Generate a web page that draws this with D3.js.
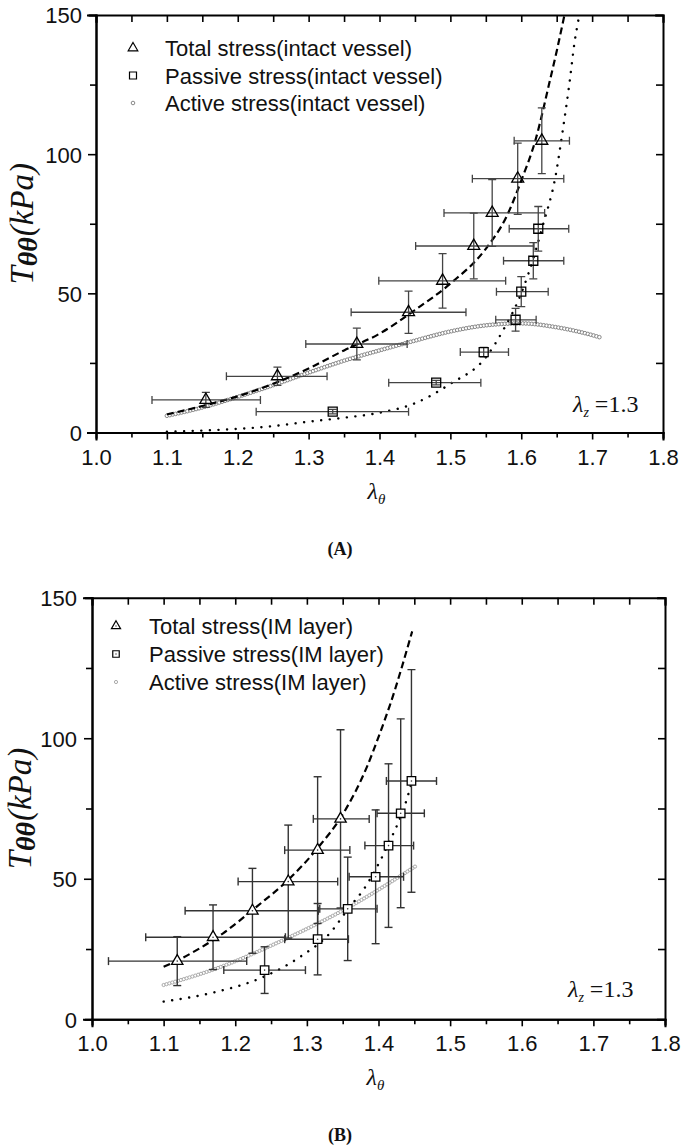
<!DOCTYPE html>
<html>
<head>
<meta charset="utf-8">
<script src="https://cdn.jsdelivr.net/npm/d3@7/dist/d3.min.js"></script>
<style>
  html, body { margin: 0; padding: 0; background: #fff; }
  svg { display: block; }
</style>
</head>
<body>
<svg id="chart" width="685" height="1146"></svg>
<script>
// ---------------- DATA ----------------
// axis ticks
const xMajorTicks = [1.0, 1.1, 1.2, 1.3, 1.4, 1.5, 1.6, 1.7, 1.8];
const xMinorTicks = [1.05, 1.15, 1.25, 1.35, 1.45, 1.55, 1.65, 1.75];
const yMajorTicks = [0, 50, 100, 150];
const yMinorTicks = [25, 75, 125];

// Panel A: intact vessel
const totalA_lam   = [1.155, 1.256, 1.368, 1.441, 1.489, 1.533, 1.559, 1.595, 1.629];
const totalA_T     = [11.7, 20.2, 31.8, 43.2, 54.5, 67.0, 78.9, 91.2, 104.8];
const totalA_xlo   = [1.079, 1.184, 1.296, 1.360, 1.399, 1.451, 1.491, 1.531, 1.590];
const totalA_xhi   = [1.232, 1.326, 1.439, 1.522, 1.578, 1.618, 1.633, 1.660, 1.668];
const totalA_yerr  = [2.7, 3.3, 5.7, 7.6, 9.8, 11.8, 12.0, 12.8, 11.8];

const passA_lam    = [1.334, 1.480, 1.547, 1.592, 1.600, 1.617, 1.624];
const passA_T      = [7.5, 17.9, 28.9, 40.5, 50.6, 61.7, 73.2];
const passA_xlo    = [1.226, 1.413, 1.514, 1.564, 1.565, 1.575, 1.583];
const passA_xhi    = [1.441, 1.543, 1.582, 1.621, 1.638, 1.660, 1.667];
const passA_yerr   = [0.8, 0.8, 1.7, 4.1, 5.4, 6.5, 8.0];

const totalFitA_lam = [1.10, 1.15, 1.20, 1.25, 1.30, 1.35, 1.40, 1.45, 1.50, 1.55, 1.58, 1.60, 1.62, 1.64, 1.65, 1.661];
const totalFitA_T   = [6.5, 9.5, 13.0, 17.5, 23.0, 29.5, 35.5, 44.0, 53.5, 66.0, 78.0, 90.5, 105, 126, 137, 150];
const passFitA_lam  = [1.10, 1.15, 1.20, 1.25, 1.30, 1.35, 1.40, 1.45, 1.50, 1.55, 1.575, 1.60, 1.62, 1.63, 1.649, 1.658, 1.668, 1.675, 1.682];
const passFitA_T    = [0.3, 0.7, 1.3, 2.3, 3.9, 5.3, 7.1, 10.5, 17.5, 27.0, 37.0, 50.0, 65.0, 74.0, 93.0, 107.6, 125.5, 139.8, 150];
const actA_lam      = [1.10, 1.15, 1.20, 1.25, 1.30, 1.35, 1.40, 1.45, 1.50, 1.55, 1.60, 1.65, 1.70, 1.711];
const actA_T        = [6.0, 9.0, 12.8, 17.0, 21.5, 25.8, 29.5, 33.0, 36.3, 38.5, 39.2, 37.8, 35.0, 34.2];

// Panel B: IM layer
const totalB_lam   = [1.119, 1.169, 1.224, 1.274, 1.315, 1.347];
const totalB_T     = [20.7, 29.2, 38.6, 49.0, 60.2, 71.3];
const totalB_xlo   = [1.023, 1.075, 1.130, 1.204, 1.269, 1.309];
const totalB_xhi   = [1.216, 1.270, 1.316, 1.343, 1.360, 1.387];
const totalB_yerr  = [8.7, 11.5, 15.1, 20.1, 26.1, 31.7];

const passB_lam    = [1.241, 1.315, 1.357, 1.396, 1.414, 1.431, 1.446];
const passB_T      = [17.5, 28.5, 39.3, 50.7, 61.8, 73.3, 84.8];
const passB_xlo    = [1.184, 1.269, 1.318, 1.359, 1.381, 1.398, 1.411];
const passB_xhi    = [1.298, 1.358, 1.398, 1.435, 1.449, 1.464, 1.481];
const passB_yerr   = [8.3, 12.7, 18.4, 23.8, 29.1, 33.6, 39.6];

const totalFitB_lam = [1.10, 1.119, 1.15, 1.183, 1.230, 1.274, 1.315, 1.351, 1.384, 1.402, 1.416, 1.447];
const totalFitB_T   = [18.7, 20.9, 25.2, 30.6, 40.1, 49.6, 60.9, 73.3, 89.9, 101.8, 111.8, 138.0];
const passFitB_lam  = [1.10, 1.174, 1.235, 1.291, 1.332, 1.360, 1.379, 1.398, 1.412, 1.442, 1.448];
const passFitB_T    = [6.3, 9.8, 14.6, 22.3, 30.6, 40.1, 46.1, 54.3, 61.4, 80.4, 86.0];
const actB_lam      = [1.10, 1.174, 1.267, 1.360, 1.452];
const actB_T        = [12.2, 18.1, 28.2, 40.1, 54.5];

const legendA = ["Total stress(intact vessel)", "Passive stress(intact vessel)", "Active stress(intact vessel)"];
const legendB = ["Total stress(IM layer)", "Passive stress(IM layer)", "Active stress(IM layer)"];

// ---------------- DRAWING ----------------
const svg = d3.select("#chart");
svg.append("rect").attr("width", 685).attr("height", 1146).attr("fill", "#fff");

const zip = (a, b) => a.map((v, i) => [v, b[i]]);

function drawPanel(cfg) {
  const x = d3.scaleLinear().domain([1.0, 1.8]).range(cfg.xr);
  const y = d3.scaleLinear().domain([0, 150]).range(cfg.yr);
  const g = svg.append("g");
  const clipId = "clip" + cfg.id;
  svg.append("clipPath").attr("id", clipId).append("rect")
    .attr("x", cfg.xr[0]).attr("y", cfg.yr[1])
    .attr("width", cfg.xr[1] - cfg.xr[0]).attr("height", cfg.yr[0] - cfg.yr[1]);

  const plot = g.append("g").attr("clip-path", `url(#${clipId})`);

  // active stress curve (small open circles)
  const line = d3.line().x(d => x(d[0])).y(d => y(d[1])).curve(d3.curveMonotoneX);
  const actPath = plot.append("path").datum(zip(cfg.act[0], cfg.act[1]))
    .attr("d", line).attr("fill", "none").attr("stroke", "none");
  const node = actPath.node();
  const L = node.getTotalLength();
  const pts = d3.range(0, L + 0.01, cfg.circStep).map(l => node.getPointAtLength(l));
  plot.append("g").selectAll("circle").data(pts).join("circle")
    .attr("cx", p => p.x).attr("cy", p => p.y).attr("r", cfg.circR)
    .attr("fill", "#fff").attr("stroke", cfg.circColor).attr("stroke-width", 0.9);

  // passive fit (dotted)
  plot.append("path").datum(zip(cfg.passFit[0], cfg.passFit[1]))
    .attr("d", line).attr("fill", "none").attr("stroke", "#000")
    .attr("stroke-width", 2.4).attr("stroke-linecap", "round")
    .attr("stroke-dasharray", "0.1,8.5");

  // total fit (dashed)
  plot.append("path").datum(zip(cfg.totalFit[0], cfg.totalFit[1]))
    .attr("d", line).attr("fill", "none").attr("stroke", "#000")
    .attr("stroke-width", 2.2).attr("stroke-dasharray", "7,4");

  // error bars
  function errorBars(s) {
    const data = s.lam.map((l, i) => ({ l, v: s.val[i], xlo: s.xlo[i], xhi: s.xhi[i], ye: s.yerr[i] }));
    const eg = plot.append("g").attr("stroke", cfg.errColor).attr("stroke-width", cfg.errWidth).attr("fill", "none");
    const cap = 4;
    data.forEach(d => {
      const cx = x(d.l), cy = y(d.v);
      eg.append("line").attr("x1", x(d.xlo)).attr("x2", x(d.xhi)).attr("y1", cy).attr("y2", cy);
      eg.append("line").attr("x1", x(d.xlo)).attr("x2", x(d.xlo)).attr("y1", cy - cap).attr("y2", cy + cap);
      eg.append("line").attr("x1", x(d.xhi)).attr("x2", x(d.xhi)).attr("y1", cy - cap).attr("y2", cy + cap);
      eg.append("line").attr("x1", cx).attr("x2", cx).attr("y1", y(d.v - d.ye)).attr("y2", y(d.v + d.ye));
      eg.append("line").attr("x1", cx - cap).attr("x2", cx + cap).attr("y1", y(d.v + d.ye)).attr("y2", y(d.v + d.ye));
      eg.append("line").attr("x1", cx - cap).attr("x2", cx + cap).attr("y1", y(d.v - d.ye)).attr("y2", y(d.v - d.ye));
    });
    return data;
  }
  const tData = errorBars(cfg.total);
  const pData = errorBars(cfg.pass);

  const tri = d3.symbol(d3.symbolTriangle, cfg.triSize);
  const sq = d3.symbol(d3.symbolSquare, cfg.sqSize);
  function markers(data, sym) {
    const mg = plot.append("g");
    mg.selectAll("path").data(data).join("path")
      .attr("transform", d => `translate(${x(d.l)},${y(d.v)})`)
      .attr("d", sym).attr("fill", cfg.markerFill).attr("stroke", "#000").attr("stroke-width", 1.3);
    if (cfg.centerDot) {
      mg.selectAll("circle").data(data).join("circle")
        .attr("cx", d => x(d.l)).attr("cy", d => y(d.v)).attr("r", 0.8).attr("fill", "#333");
    }
  }
  markers(tData, tri);
  markers(pData, sq);

  // axes
  const font = "'Liberation Sans', Arial, sans-serif";
  const bottom = g.append("g").attr("transform", `translate(0,${cfg.yr[0]})`)
    .call(d3.axisBottom(x).tickValues(xMajorTicks).tickSize(7).tickFormat(d3.format(".1f")));
  g.append("g").attr("transform", `translate(0,${cfg.yr[0]})`)
    .call(d3.axisBottom(x).tickValues(xMinorTicks).tickSize(5).tickFormat(""));
  const left = g.append("g").attr("transform", `translate(${cfg.xr[0]},0)`)
    .call(d3.axisLeft(y).tickValues(yMajorTicks).tickSize(8).tickFormat(d3.format("d")));
  g.append("g").attr("transform", `translate(${cfg.xr[0]},0)`)
    .call(d3.axisLeft(y).tickValues(yMinorTicks).tickSize(6).tickFormat(""));
  g.append("g").attr("transform", `translate(0,${cfg.yr[1]})`)
    .call(d3.axisTop(x).tickValues(xMajorTicks.concat(xMinorTicks)).tickSize(-7).tickFormat(""));
  g.append("g").attr("transform", `translate(${cfg.xr[1]},0)`)
    .call(d3.axisRight(y).tickValues(yMajorTicks.concat(yMinorTicks)).tickSize(-7).tickFormat(""));

  g.selectAll(".domain").attr("stroke", "#000").attr("stroke-width", 2).attr("stroke-linecap", "square");
  g.selectAll(".tick line").attr("stroke", "#000").attr("stroke-width", 1.6);
  bottom.selectAll("text").attr("y", 32).attr("dy", 0)
    .attr("font-family", font).attr("font-size", 22).attr("fill", "#111");
  left.selectAll("text").attr("x", cfg.yLabelDx).attr("dy", "0.36em")
    .attr("font-family", font).attr("font-size", 22).attr("fill", "#111");

  // legend
  const lg = g.append("g");
  cfg.legend.forEach((t, i) => {
    const ly = cfg.legY + i * cfg.legStep;
    lg.append("text").attr("x", cfg.legTextX).attr("y", ly + 8)
      .attr("font-family", font).attr("font-size", 22).attr("fill", "#111").text(t);
  });
  lg.append("path").attr("transform", `translate(${cfg.legMarkX},${cfg.legY})`)
    .attr("d", d3.symbol(d3.symbolTriangle, cfg.legTri)).attr("fill", "#fff").attr("stroke", "#000").attr("stroke-width", 1.2);
  lg.append("path").attr("transform", `translate(${cfg.legMarkX},${cfg.legY + cfg.legStep})`)
    .attr("d", d3.symbol(d3.symbolSquare, cfg.legSq)).attr("fill", "#fff").attr("stroke", "#000").attr("stroke-width", 1.2);
  if (cfg.centerDot) {
    [0, 1].forEach(i => lg.append("circle").attr("cx", cfg.legMarkX).attr("cy", cfg.legY + i * cfg.legStep).attr("r", 0.7).attr("fill", "#333"));
  }
  lg.append("circle").attr("cx", cfg.legMarkX).attr("cy", cfg.legY + 2 * cfg.legStep).attr("r", cfg.circR)
    .attr("fill", "#fff").attr("stroke", cfg.circColor).attr("stroke-width", 0.9);

  // y label
  const serif = "'Liberation Serif', 'Times New Roman', serif";
  const yl = g.append("text")
    .attr("transform", `translate(${cfg.yTitleX},${(cfg.yr[0] + cfg.yr[1]) / 2}) rotate(-90)`)
    .attr("text-anchor", "middle").attr("font-family", serif).attr("font-style", "italic")
    .attr("font-size", 33).attr("fill", "#111");
  yl.append("tspan").text("T");
  yl.append("tspan").attr("font-weight", "bold").attr("font-size", 28).attr("dy", 4).text("θθ");
  yl.append("tspan").attr("dy", -4).attr("dx", 1).text("(kPa)");

  // x label
  const xl = g.append("text").attr("x", (cfg.xr[0] + cfg.xr[1]) / 2 - 3).attr("y", cfg.yr[0] + 66)
    .attr("text-anchor", "middle").attr("font-family", serif).attr("font-style", "italic")
    .attr("font-size", 24).attr("fill", "#111");
  xl.append("tspan").text("λ");
  xl.append("tspan").attr("font-size", 15).attr("dy", 5).text("θ");

  // lambda_z annotation
  const lz = g.append("text").attr("x", cfg.lzX).attr("y", cfg.lzY)
    .attr("font-family", serif).attr("font-size", 24).attr("fill", "#111");
  lz.append("tspan").attr("font-style", "italic").text("λ");
  lz.append("tspan").attr("font-style", "italic").attr("font-size", 14).attr("dy", 5).text("z");
  lz.append("tspan").attr("dy", -5).attr("dx", 6).text("=1.3");

  // panel tag
  g.append("text").attr("x", 340).attr("y", cfg.yr[0] + 122).attr("text-anchor", "middle")
    .attr("font-family", serif).attr("font-weight", "bold").attr("font-size", 18).attr("fill", "#111")
    .text(cfg.tag);
}

drawPanel({
  id: "A", xr: [96, 663], yr: [432.5, 15],
  total: { lam: totalA_lam, val: totalA_T, xlo: totalA_xlo, xhi: totalA_xhi, yerr: totalA_yerr },
  pass: { lam: passA_lam, val: passA_T, xlo: passA_xlo, xhi: passA_xhi, yerr: passA_yerr },
  totalFit: [totalFitA_lam, totalFitA_T], passFit: [passFitA_lam, passFitA_T], act: [actA_lam, actA_T],
  circStep: 3, circR: 1.8, circColor: "#7a7a7a", errColor: "#444", errWidth: 1.3,
  triSize: 62, sqSize: 81, markerFill: "none", centerDot: false,
  legend: legendA, legY: 48, legStep: 27.5, legMarkX: 133, legTextX: 165, legTri: 40, legSq: 49,
  yLabelDx: -14, yTitleX: 33, lzX: 573, lzY: 412, tag: "(A)"
});

drawPanel({
  id: "B", xr: [92, 665], yr: [1019.3, 597.7],
  total: { lam: totalB_lam, val: totalB_T, xlo: totalB_xlo, xhi: totalB_xhi, yerr: totalB_yerr },
  pass: { lam: passB_lam, val: passB_T, xlo: passB_xlo, xhi: passB_xhi, yerr: passB_yerr },
  totalFit: [totalFitB_lam, totalFitB_T], passFit: [passFitB_lam, passFitB_T], act: [actB_lam, actB_T],
  circStep: 3, circR: 1.6, circColor: "#a0a0a0", errColor: "#333", errWidth: 1.4,
  triSize: 56, sqSize: 72, markerFill: "#fff", centerDot: true,
  legend: legendB, legY: 626, legStep: 28, legMarkX: 116, legTextX: 149, legTri: 36, legSq: 42,
  yLabelDx: -15, yTitleX: 31, lzX: 568, lzY: 997, tag: "(B)"
});
</script>
</body>
</html>
